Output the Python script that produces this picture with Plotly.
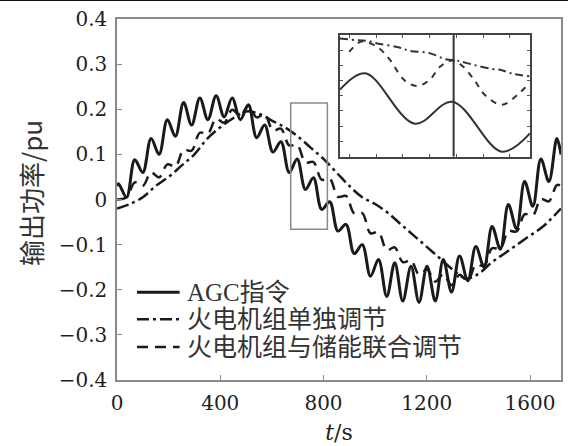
import plotly.graph_objects as go

# ---------------- data ----------------
agc_t = [0, 6, 37, 69, 100, 132, 163, 195, 226, 258, 289, 321, 352, 384, 415, 446, 478,
         509, 541, 572, 604, 635, 667, 698, 730, 761, 793, 824, 856, 887, 919, 950, 982,
         1013, 1045, 1076, 1107, 1139, 1170, 1201, 1233, 1264, 1296, 1327, 1359, 1390,
         1422, 1453, 1485, 1516, 1548, 1579, 1611, 1642, 1673, 1704, 1720]
agc_v = [0.030, 0.035, 0.005, 0.088, 0.060, 0.135, 0.100, 0.177, 0.140, 0.215, 0.165,
         0.225, 0.177, 0.230, 0.183, 0.225, 0.177, 0.210, 0.137, 0.165, 0.105, 0.128,
         0.060, 0.090, 0.022, 0.048, -0.022, -0.005, -0.070, -0.055, -0.120, -0.100,
         -0.170, -0.133, -0.215, -0.140, -0.225, -0.148, -0.228, -0.148, -0.225, -0.133,
         -0.205, -0.125, -0.180, -0.104, -0.150, -0.060, -0.110, -0.011, -0.065, 0.040,
         -0.015, 0.090, 0.040, 0.135, 0.100]

# thermal unit alone (dash-dot)
th_t = [0, 50, 100, 150, 200, 250, 300, 350, 400, 450, 500, 550, 600, 650, 700, 750, 800,
        850, 900, 950, 1000, 1050, 1100, 1150, 1200, 1250, 1300, 1350, 1400, 1450, 1500,
        1550, 1600, 1650, 1720]
th_v = [-0.020, -0.010, 0.005, 0.030, 0.050, 0.075, 0.100, 0.135, 0.160, 0.180, 0.195,
        0.190, 0.175, 0.160, 0.140, 0.115, 0.090, 0.060, 0.030, 0.005, -0.010, -0.030,
        -0.055, -0.080, -0.105, -0.130, -0.155, -0.175, -0.165, -0.140, -0.120, -0.100,
        -0.080, -0.060, -0.020]

# thermal unit + storage (dashed)
co_t = [0, 37, 69, 100, 132, 163, 195, 226, 258, 289, 321, 352, 384, 415, 446, 478,
        509, 541, 572, 604, 635, 667, 698, 730, 761, 793, 824, 856, 887, 919, 950, 982,
        1013, 1045, 1076, 1107, 1139, 1170, 1201, 1233, 1264, 1296, 1327, 1359, 1390,
        1422, 1453, 1485, 1516, 1548, 1579, 1611, 1642, 1673, 1704, 1720]
co_v = [0.000, 0.005, 0.038, 0.030, 0.060, 0.049, 0.078, 0.073, 0.110, 0.108, 0.148,
        0.146, 0.179, 0.170, 0.199, 0.186, 0.208, 0.182, 0.189, 0.153, 0.157, 0.120,
        0.121, 0.082, 0.083, 0.044, 0.046, 0.006, 0.008, -0.031, -0.030, -0.075,
        -0.072, -0.112, -0.106, -0.139, -0.135, -0.166, -0.155, -0.182, -0.166, -0.190,
        -0.167, -0.180, -0.145, -0.147, -0.108, -0.109, -0.070, -0.071, -0.033, -0.035,
        0.001, -0.004, 0.032, 0.030]

# zoom window shown in the inset
zoom_t = [673, 815]
zoom_v = [-0.066, 0.214]
zoom_mark_t = 758

# inset curves (relative height within inset, 0 = bottom, 1 = top)
in_agc_t = [673, 692, 729, 757, 794, 815]
in_agc_v = [0.55, 0.685, 0.27, 0.45, 0.04, 0.19]
in_th_t = [673, 687, 694, 701, 716, 725, 740, 752, 760, 764, 774, 787, 794, 802, 815]
in_th_v = [0.97, 0.955, 0.95, 0.93, 0.90, 0.87, 0.85, 0.80, 0.79, 0.78, 0.75, 0.72, 0.71, 0.68, 0.66]
in_co_t = [680, 689, 701, 710, 721, 731, 740, 748, 757, 765, 774, 781, 794, 806, 814]
in_co_v = [0.86, 0.945, 0.90, 0.80, 0.63, 0.58, 0.63, 0.74, 0.79, 0.74, 0.62, 0.51, 0.425, 0.51, 0.60]

x_ticks = [0, 400, 800, 1200, 1600]
names = ["AGC指令", "火电机组单独调节", "火电机组与储能联合调节"]
y_title = "输出功率/pu"
x_title = "<i>t</i>/s"

# ---------------- figure ----------------
INK = "#1a1a1a"
FRAME = "#8a8a8a"
TICKFONT = "DejaVu Serif, serif"
LEGFONT = "Liberation Serif, Noto Sans CJK SC, serif"
CJK = "Noto Sans CJK SC, sans-serif"

styles = [dict(color=INK, width=3),
          dict(color=INK, width=2.5, dash="12px,4px,3px,4px"),
          dict(color=INK, width=2.5, dash="11px,7px")]

fig = go.Figure()
for (xs, ys), st, nm in zip([(agc_t, agc_v), (th_t, th_v), (co_t, co_v)], styles, names):
    fig.add_trace(go.Scatter(x=xs, y=ys, mode="lines", name=nm, showlegend=False,
                             line=dict(shape="spline", smoothing=1.0, **st)))

# inset traces
fig.add_trace(go.Scatter(x=in_agc_t, y=in_agc_v, mode="lines", xaxis="x2", yaxis="y2",
                         showlegend=False, line=dict(color="#333", width=2, shape="spline")))
fig.add_trace(go.Scatter(x=in_th_t, y=in_th_v, mode="lines", xaxis="x2", yaxis="y2",
                         showlegend=False,
                         line=dict(color="#333", width=2, dash="8px,4px,2px,4px",
                                   shape="spline")))
fig.add_trace(go.Scatter(x=in_co_t, y=in_co_v, mode="lines", xaxis="x2", yaxis="y2",
                         showlegend=False,
                         line=dict(color="#333", width=2, dash="6px,6px", shape="spline")))

# zoom rectangle on main axes
fig.add_shape(type="rect", xref="x", yref="y", x0=zoom_t[0], x1=zoom_t[1],
              y0=zoom_v[0], y1=zoom_v[1], line=dict(color=FRAME, width=1.5))
# marker line inside inset
fig.add_shape(type="line", xref="x2", yref="y2 domain", x0=zoom_mark_t, x1=zoom_mark_t,
              y0=0, y1=1, line=dict(color="#333", width=2))
# dark top border of the picture
fig.add_shape(type="line", xref="paper", yref="paper", x0=-0.5, x1=1.5, y0=1.054, y1=1.054,
              line=dict(color="#111", width=3))

# hand-drawn legend (sample line + label), placed in the lower-left of the axes
leg_rows = [0.243, 0.1685, 0.0912]
for st, nm, yy in zip(styles, names, leg_rows):
    fig.add_shape(type="line", xref="paper", yref="paper", x0=0.045, x1=0.141, y0=yy, y1=yy,
                  line=st)
    fig.add_annotation(xref="paper", yref="paper", x=0.1525, y=yy, xanchor="left",
                       yanchor="middle", text=nm, showarrow=False,
                       font=dict(family=LEGFONT, size=25, color="#333"))

# y-axis title
fig.add_annotation(xref="paper", yref="paper", x=-0.195, y=0.519, xanchor="center",
                   yanchor="middle", text=y_title, textangle=-90, showarrow=False,
                   font=dict(family=CJK, size=26, color="#333"))

axis_common = dict(ticks="inside", ticklen=5, tickcolor=FRAME, showline=True,
                   linecolor=FRAME, linewidth=1.5, mirror=True, showgrid=False,
                   zeroline=False, tickfont=dict(family=TICKFONT, size=20, color="#1e1e1e"))

fig.update_layout(
    width=568, height=446,
    margin=dict(l=117, r=5, t=19, b=65),
    paper_bgcolor="white", plot_bgcolor="white",
    showlegend=False,
    xaxis=dict(range=[0, 1720], tickvals=x_ticks, ticklabelstandoff=4,
               title=dict(text=x_title, font=dict(family=TICKFONT, size=22, color="#222"),
                          standoff=11), **axis_common),
    yaxis=dict(range=[-0.4, 0.4], dtick=0.1, ticklabelstandoff=4, **axis_common),
    xaxis2=dict(domain=[0.502, 0.930], anchor="y2", range=zoom_t, showticklabels=False,
                ticks="inside", ticklen=3, dtick=20, tickcolor="#555", showline=True,
                linecolor="#444", linewidth=2, mirror="ticks", showgrid=False, zeroline=False),
    yaxis2=dict(domain=[0.619, 0.956], anchor="x2", range=[0, 1], showticklabels=False,
                ticks="inside", ticklen=3, dtick=0.125, tickcolor="#555", showline=True,
                linecolor="#444", linewidth=2, mirror="ticks", showgrid=False, zeroline=False),
)

fig.write_html("out.html")
